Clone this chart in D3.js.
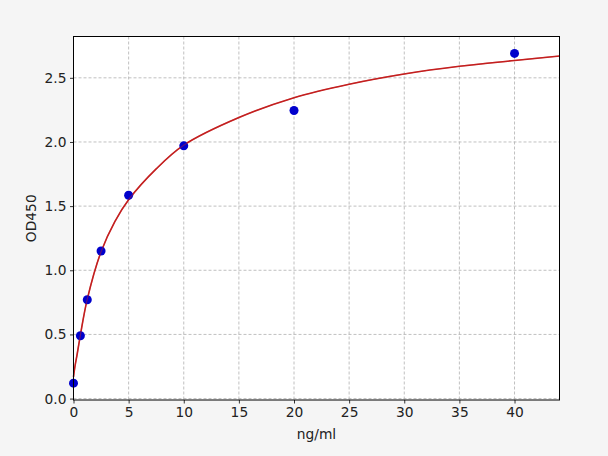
<!DOCTYPE html>
<html>
<head>
<meta charset="utf-8">
<script src="https://cdn.jsdelivr.net/npm/d3@7/dist/d3.min.js"></script>
<style>
  body { margin: 0; background: #f5f5f5; }
  svg { display: block; }
  text { font-family: "DejaVu Sans", sans-serif; fill: #222; }
</style>
</head>
<body>
<div id="chart"></div>
<script>
// measured standard points
var concs = [0, 0.625, 1.25, 2.5, 5, 10, 20, 40];
var ods   = [0.12, 0.49, 0.77, 1.15, 1.585, 1.97, 2.245, 2.69];

// fitted curve
var curveX = [0, 0.15, 0.3, 0.625, 1.25, 2.5, 3.75, 5, 7.5, 10, 15, 20, 25, 30, 35, 40, 44.1];
var curveY = [0.17, 0.26, 0.33, 0.495, 0.775, 1.145, 1.38, 1.55, 1.79, 1.975, 2.19, 2.345, 2.45, 2.53, 2.59, 2.635, 2.67];

var xTicks = [0, 5, 10, 15, 20, 25, 30, 35, 40];
var yTicks = [0, 0.5, 1.0, 1.5, 2.0, 2.5];

var width = 608, height = 456;
var pLeft = 73.5, pRight = 559.5, pTop = 36.5, pBottom = 400;

var svg = d3.select("#chart").append("svg")
    .attr("width", width)
    .attr("height", height);

var x = d3.scaleLinear().domain([0, 44.08]).range([pLeft, pRight]);
var y = d3.scaleLinear().domain([-0.011, 2.822]).range([pBottom, pTop]);

// plot background
svg.append("rect")
    .attr("x", pLeft).attr("y", pTop)
    .attr("width", pRight - pLeft).attr("height", pBottom - pTop)
    .style("fill", "#fff");

// grid
var grid = svg.append("g")
    .style("stroke", "#b0b0b0")
    .style("stroke-width", 0.8)
    .style("stroke-dasharray", "3,2");
grid.selectAll("line.gx").data(xTicks).enter().append("line")
    .attr("x1", function(d) { return x(d); }).attr("x2", function(d) { return x(d); })
    .attr("y1", pTop).attr("y2", pBottom);
grid.selectAll("line.gy").data(yTicks).enter().append("line")
    .attr("y1", function(d) { return y(d); }).attr("y2", function(d) { return y(d); })
    .attr("x1", pLeft).attr("x2", pRight);

// fitted curve
var line = d3.line()
    .x(function(d) { return x(d[0]); })
    .y(function(d) { return y(d[1]); })
    .curve(d3.curveCatmullRom.alpha(0.5));
svg.append("path")
    .datum(d3.zip(curveX, curveY))
    .attr("d", line)
    .style("fill", "none")
    .style("stroke", "#c42020")
    .style("stroke-width", 1.6);

// points
svg.append("g").selectAll("circle")
    .data(d3.zip(concs, ods))
    .enter().append("circle")
    .attr("cx", function(d) { return x(d[0]); })
    .attr("cy", function(d) { return y(d[1]); })
    .attr("r", 4.5)
    .style("fill", "#0000cc");

// red curve over the points, partly visible as in the original
svg.append("path")
    .datum(d3.zip(curveX, curveY))
    .attr("d", line)
    .style("fill", "none")
    .style("stroke", "#c42020")
    .style("stroke-width", 1.2)
    .style("opacity", 0.45);

// axes
var xAxis = d3.axisBottom(x).tickValues(xTicks).tickSize(3.5).tickPadding(3.5)
    .tickFormat(d3.format("d"));
var yAxis = d3.axisLeft(y).tickValues(yTicks).tickSize(3.5).tickPadding(3.5)
    .tickFormat(d3.format(".1f"));

var gx = svg.append("g").attr("transform", "translate(0," + pBottom + ")").call(xAxis);
var gy = svg.append("g").attr("transform", "translate(" + pLeft + ",0)").call(yAxis);
[gx, gy].forEach(function(g) {
    g.select(".domain").remove();
    g.selectAll("line").style("stroke", "#000").style("stroke-width", 0.8);
    g.selectAll("text").style("font-size", "13.8px").style("fill", "#222")
        .style("font-family", "DejaVu Sans, sans-serif");
});

// frame
svg.append("rect")
    .attr("x", pLeft).attr("y", pTop)
    .attr("width", pRight - pLeft).attr("height", pBottom - pTop)
    .style("fill", "none")
    .style("stroke", "#000")
    .style("stroke-width", 1);

// labels
svg.append("text")
    .attr("x", (pLeft + pRight) / 2).attr("y", 439)
    .attr("text-anchor", "middle")
    .style("font-size", "13.8px")
    .text("ng/ml");
svg.append("text")
    .attr("transform", "translate(36," + ((pTop + pBottom) / 2) + ") rotate(-90)")
    .attr("text-anchor", "middle")
    .style("font-size", "13.8px")
    .text("OD450");
</script>
</body>
</html>
